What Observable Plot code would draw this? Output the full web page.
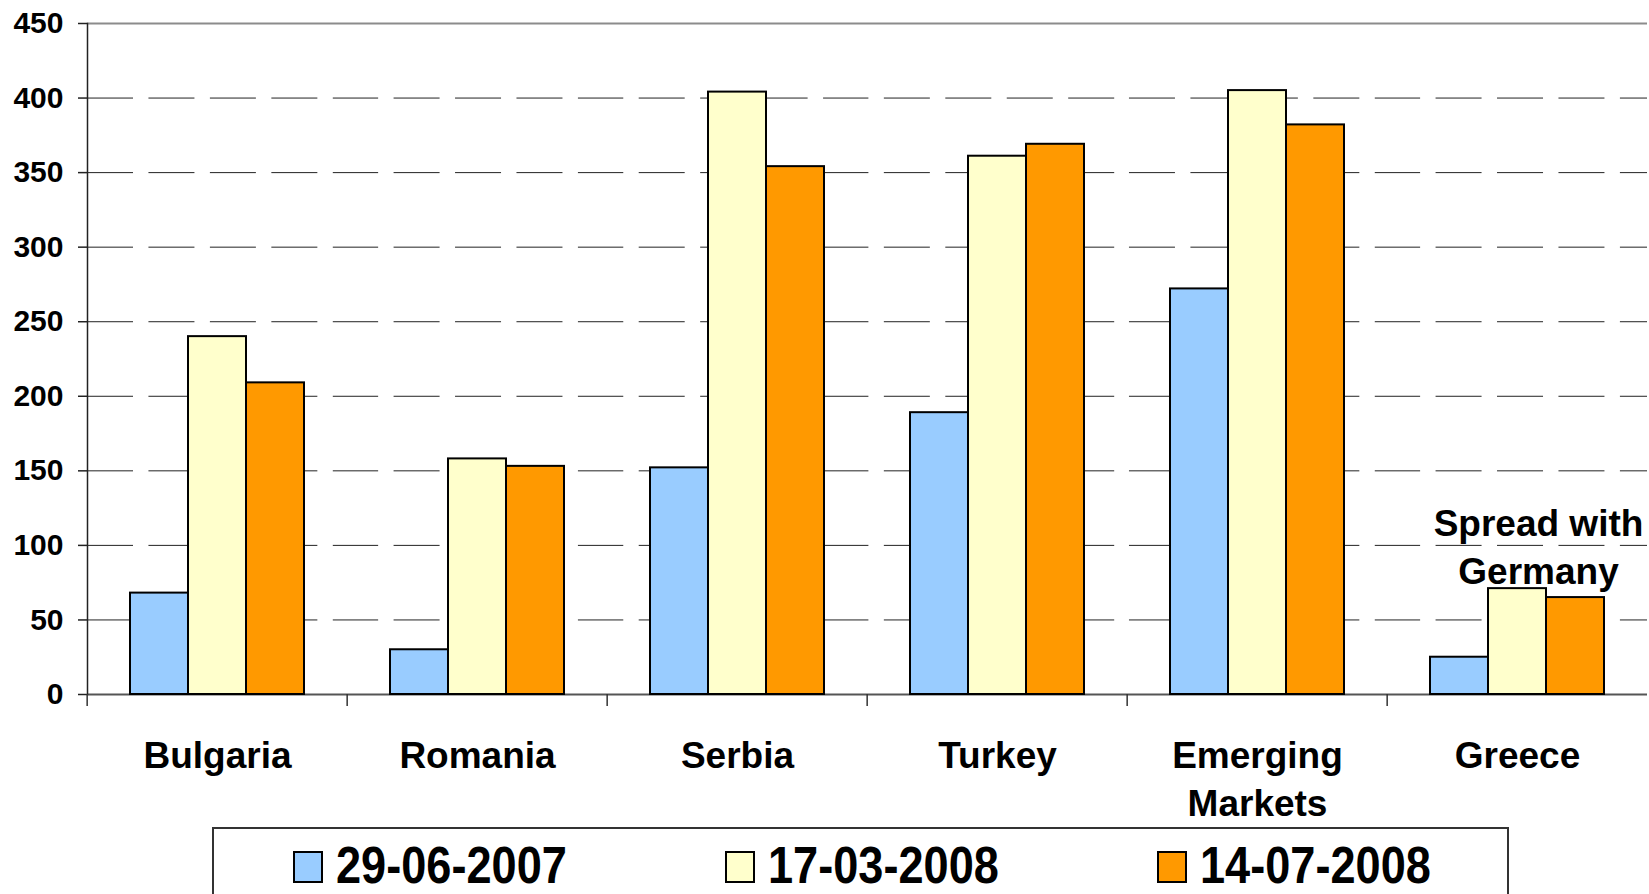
<!DOCTYPE html>
<html>
<head>
<meta charset="utf-8">
<script src="https://cdn.jsdelivr.net/npm/d3@7"></script>
<script src="https://cdn.jsdelivr.net/npm/@observablehq/plot@0.6"></script>
<style>
html, body { margin: 0; padding: 0; background: #fff; overflow: hidden; }
#wrap { position: relative; width: 1649px; height: 894px; font-family: 'Liberation Sans', Arial, Helvetica, sans-serif; }
#chart svg { display: block; }
#legend { position: absolute; left: 212px; top: 827px; width: 1297px; height: 120px; border: 2px solid #333; box-sizing: border-box; background: #fff; }
.sw { position: absolute; top: 22px; width: 30px; height: 32px; border: 2px solid #000; box-sizing: border-box; }
.lt { position: absolute; top: 11px; font-size: 51px; font-weight: bold; line-height: 1; transform: scaleX(0.885); transform-origin: left center; white-space: nowrap; color: #000; }
</style>
</head>
<body>
<div id="wrap">
  <div id="chart"></div>
  <div id="legend"></div>
</div>
<script>
// ---- data ----
const categories = ["Bulgaria", "Romania", "Serbia", "Turkey", "Emerging Markets", "Greece"];
const categoryLabels = ["Bulgaria", "Romania", "Serbia", "Turkey", "Emerging\nMarkets", "Greece"];
const series = ["29-06-2007", "17-03-2008", "14-07-2008"];
const seriesColors = ["#99CCFF", "#FFFFCC", "#FF9900"];
const spread2007Jun = [68, 30, 152, 189, 272, 25];
const spread2008Mar = [240, 158, 404, 361, 405, 71];
const spread2008Jul = [209, 153, 354, 369, 382, 65];
const yTicks = [0, 50, 100, 150, 200, 250, 300, 350, 400, 450];
const gridTicks = [50, 100, 150, 200, 250, 300, 350, 400];
const annotationText = "Spread with\nGermany";

const seriesValues = [spread2007Jun, spread2008Mar, spread2008Jul];
const data = categories.flatMap((c, i) =>
  series.map((s, j) => ({category: c, series: s, value: seriesValues[j][i]}))
);

// ---- layout ----
const W = 1649, H = 828, mL = 85, mR = 0, mT = 23, mB = 134;
const step = (W - mL - mR) / categories.length;
const dashOn = 46, dashOff = 15.45, dashPeriod = dashOn + dashOff;
const font = "'Liberation Sans', Arial, Helvetica, sans-serif";

// one dashed grid mark per facet, so the dash pattern runs on continuously
const gridMarks = categories.map((c, k) =>
  Plot.ruleY(gridTicks.map(v => ({category: c, value: v})), {
    fx: "category", y: "value", stroke: "#222", strokeWidth: 1,
    strokeDasharray: `${dashOn},${dashOff}`,
    strokeDashoffset: (k * step) % dashPeriod
  })
);

const chart = Plot.plot({
  width: W,
  height: H,
  marginLeft: mL,
  marginRight: mR,
  marginTop: mT,
  marginBottom: mB,
  style: {fontFamily: font, background: "#fff", color: "#000", overflow: "visible"},
  fx: {domain: categories, paddingInner: 0, paddingOuter: 0},
  x: {domain: series, paddingInner: 0, paddingOuter: 0.74, axis: null},
  y: {domain: [0, 450]},
  color: {domain: series, range: seriesColors},
  marks: [
    ...gridMarks,
    Plot.ruleY([450], {stroke: "#8c8c8c", strokeWidth: 2}),
    Plot.ruleY([0], {stroke: "#555", strokeWidth: 2}),
    Plot.barY(data, {fx: "category", x: "series", y: "value", fill: "series", stroke: "#000", strokeWidth: 2}),
    Plot.frame({anchor: "left", facetAnchor: "left", stroke: "#222", strokeWidth: 1.5}),
    Plot.axisY({ticks: yTicks, tickSize: 9, tickPadding: 15, fontSize: 30, fontWeight: "bold", stroke: "#222", strokeWidth: 1.5, label: null}),
    Plot.axisFx({anchor: "bottom", tickSize: 12, dx: -step / 2, fill: "none", stroke: "#333", strokeWidth: 1.5, label: null}),
    Plot.axisFx({anchor: "bottom", tickSize: 0, tickPadding: 39, fontSize: 37, fontWeight: "bold", lineHeight: 1.3,
      tickFormat: d => categoryLabels[categories.indexOf(d)], label: null}),
    Plot.text([{category: "Greece", series: series[1], value: spread2008Mar[5], label: annotationText}], {
      fx: "category", x: "series", y: "value", text: "label", lineAnchor: "bottom",
      dx: 21, dy: -5, fontSize: 37, fontWeight: "bold", lineHeight: 1.3, fill: "#000"
    })
  ]
});
document.getElementById("chart").appendChild(chart);

// ---- legend ----
const legend = document.getElementById("legend");
series.forEach((s, i) => {
  const sw = document.createElement("div");
  sw.className = "sw";
  sw.style.left = (79 + i * 432) + "px";
  sw.style.background = seriesColors[i];
  legend.appendChild(sw);
  const t = document.createElement("div");
  t.className = "lt";
  t.style.left = (122 + i * 432) + "px";
  t.textContent = s;
  legend.appendChild(t);
});
</script>
</body>
</html>
